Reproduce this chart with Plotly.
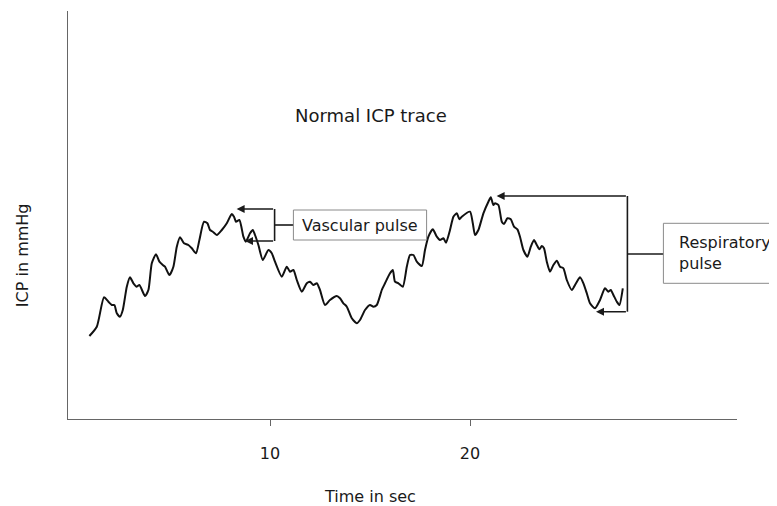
import plotly.graph_objects as go

# ---- data ----
time_s = [0.97, 1.34, 1.70, 1.92, 2.09, 2.22, 2.34, 2.50, 2.64, 2.84, 3.00, 3.17, 3.34, 3.47, 3.75, 3.92,
          4.09, 4.30, 4.47, 4.64, 4.75, 4.97, 5.17, 5.34, 5.50, 5.70, 5.92, 6.09, 6.30, 6.47, 6.70, 6.87,
          7.00, 7.14, 7.34, 7.59, 7.84, 8.09, 8.20, 8.30, 8.47, 8.67, 8.79, 9.00, 9.14, 9.25, 9.42, 9.64,
          9.92, 10.09, 10.25, 10.59, 10.84, 11.00, 11.17, 11.34, 11.59, 11.84, 12.00, 12.17, 12.34, 12.50,
          12.75, 13.00, 13.34, 13.50, 13.67, 13.84, 14.09, 14.34, 14.50, 14.75, 15.00, 15.17, 15.34, 15.59,
          15.75, 16.00, 16.14, 16.25, 16.42, 16.64, 16.84, 17.00, 17.17, 17.34, 17.59, 17.75, 17.92, 18.14,
          18.34, 18.50, 18.67, 18.80, 19.00, 19.17, 19.34, 19.47, 19.59, 20.00, 20.14, 20.25, 20.42, 20.67,
          20.92, 21.04, 21.17, 21.25, 21.42, 21.59, 21.70, 21.87, 22.04, 22.20, 22.37, 22.50, 22.67, 22.87,
          23.04, 23.20, 23.34, 23.47, 23.59, 23.70, 23.84, 24.00, 24.17, 24.34, 24.50, 24.67, 24.84, 25.09,
          25.30, 25.50, 25.67, 25.84, 26.00, 26.25, 26.50, 26.75, 26.92, 27.04, 27.17, 27.34, 27.47, 27.64]
icp_mmhg = [8.30, 9.23, 12.17, 11.73, 11.40, 11.40, 10.57, 10.23, 10.90, 13.23, 14.17, 13.57, 13.23, 13.40, 12.30, 12.90,
            15.57, 16.47, 15.73, 15.40, 15.23, 14.40, 15.23, 17.23, 18.17, 17.57, 17.40, 17.07, 16.57, 17.90, 19.73, 19.57,
            18.90, 18.73, 18.40, 18.90, 19.57, 20.50, 20.23, 19.73, 19.90, 18.23, 17.73, 18.57, 18.90, 18.40, 17.40, 15.90,
            16.90, 16.57, 15.73, 14.23, 15.23, 14.73, 14.90, 13.90, 12.73, 13.57, 13.73, 13.40, 13.57, 12.90,
            11.40, 11.90, 12.30, 12.07, 11.57, 11.23, 10.07, 9.57, 9.90, 10.90, 11.40, 11.23, 11.40, 12.90,
            13.57, 14.57, 14.90, 13.73, 13.57, 13.23, 15.23, 16.40, 16.40, 15.73, 15.30, 16.90, 18.23, 18.97,
            18.23, 17.90, 18.07, 17.63, 18.90, 20.23, 20.57, 19.97, 20.23, 20.73, 19.57, 18.40, 18.90, 20.57,
            21.73, 22.17, 21.40, 21.57, 21.40, 19.73, 19.50, 20.07, 19.97, 19.23, 18.97, 18.23, 16.90, 16.23,
            17.23, 17.90, 17.40, 16.97, 17.30, 17.07, 15.73, 14.73, 15.40, 15.83, 15.23, 15.07, 13.90, 12.90,
            13.57, 14.17, 13.57, 12.57, 11.57, 11.07, 11.90, 13.07, 12.73, 12.90, 12.40, 11.73, 11.40, 13.07]

x_ticks = [10, 20]
x_tick_labels = ["10", "20"]
x_range = [-0.1, 33.35]
y_range = [0, 40.8]

chart_title = "Normal ICP trace"
x_title = "Time in sec"
y_title = "ICP in mmHg"

# annotation geometry (data units)
vasc_label = "Vascular pulse"
vasc_bracket_x = 10.23
vasc_top_y, vasc_bottom_y = 21.0, 17.8
vasc_top_tip_x, vasc_bottom_tip_x = 8.33, 8.75
vasc_link_y = 19.4
vasc_box = [11.17, 17.83, 17.9, 20.9]  # x0, x1, y0, y1

resp_label = "Respiratory<br>pulse"
resp_bracket_x = 27.87
resp_top_y, resp_bottom_y = 22.3, 10.73
resp_top_tip_x, resp_bottom_tip_x = 21.33, 26.3
resp_link_y = 16.5
resp_box = [29.67, 35.22, 13.57, 19.57]  # x0, x1, y0, y1 (extends past axis end)

FONT = "DejaVu Sans"
INK = "#1a1a1a"
AXIS = "#666666"


def to_paper_x(v):
    return (v - x_range[0]) / (x_range[1] - x_range[0])


fig = go.Figure()
fig.add_trace(go.Scatter(x=time_s, y=icp_mmhg, mode="lines",
                         line=dict(color="#111111", width=2, shape="spline", smoothing=0.6),
                         hoverinfo="skip", showlegend=False))

shapes = []
annotations = []

# vascular bracket
shapes.append(dict(type="line", xref="x", yref="y", x0=vasc_bracket_x, x1=vasc_bracket_x,
                   y0=vasc_bottom_y, y1=vasc_top_y, line=dict(color=INK, width=1.6)))
shapes.append(dict(type="line", xref="x", yref="y", x0=vasc_bracket_x, x1=vasc_box[0],
                   y0=vasc_link_y, y1=vasc_link_y, line=dict(color=INK, width=1.6)))
shapes.append(dict(type="rect", xref="x", yref="y", x0=vasc_box[0], x1=vasc_box[1],
                   y0=vasc_box[2], y1=vasc_box[3], line=dict(color="#8a8a8a", width=1)))
for tip_x, yy in [(vasc_top_tip_x, vasc_top_y), (vasc_bottom_tip_x, vasc_bottom_y)]:
    annotations.append(dict(x=tip_x, y=yy, ax=vasc_bracket_x, ay=yy, xref="x", yref="y",
                            axref="x", ayref="y", text="", showarrow=True, arrowhead=2,
                            arrowsize=1.0, arrowwidth=1.6, arrowcolor=INK, standoff=0))
annotations.append(dict(x=(vasc_box[0] + vasc_box[1]) / 2, y=(vasc_box[2] + vasc_box[3]) / 2,
                        xref="x", yref="y", text=vasc_label, showarrow=False,
                        font=dict(family=FONT, size=16, color=INK)))

# respiratory bracket
shapes.append(dict(type="line", xref="x", yref="y", x0=resp_bracket_x, x1=resp_bracket_x,
                   y0=resp_bottom_y, y1=resp_top_y, line=dict(color=INK, width=1.6)))
shapes.append(dict(type="line", xref="x", yref="y", x0=resp_bracket_x, x1=resp_box[0],
                   y0=resp_link_y, y1=resp_link_y, line=dict(color=INK, width=1.6)))
shapes.append(dict(type="rect", xref="paper", yref="y", x0=to_paper_x(resp_box[0]),
                   x1=to_paper_x(resp_box[1]), y0=resp_box[2], y1=resp_box[3],
                   line=dict(color="#8a8a8a", width=1)))
for tip_x, yy in [(resp_top_tip_x, resp_top_y), (resp_bottom_tip_x, resp_bottom_y)]:
    annotations.append(dict(x=tip_x, y=yy, ax=resp_bracket_x, ay=yy, xref="x", yref="y",
                            axref="x", ayref="y", text="", showarrow=True, arrowhead=2,
                            arrowsize=1.0, arrowwidth=1.6, arrowcolor=INK, standoff=0))
annotations.append(dict(x=resp_box[0] + 0.7, y=(resp_box[2] + resp_box[3]) / 2,
                        xref="x", yref="y", xanchor="left", align="left", text=resp_label,
                        showarrow=False, font=dict(family=FONT, size=16, color=INK)))

# chart title inside the plot
annotations.append(dict(x=15.03, y=30.35, xref="x", yref="y", text=chart_title, showarrow=False,
                        font=dict(family=FONT, size=18, color=INK)))

# axis titles (both sit off-centre in the reference)
annotations.append(dict(x=-0.067, y=0.402, xref="paper", yref="paper", text=y_title,
                        textangle=-90, showarrow=False, xanchor="center", yanchor="middle",
                        font=dict(family=FONT, size=16, color=INK)))
annotations.append(dict(x=0.451, y=-0.189, xref="paper", yref="paper", text=x_title,
                        showarrow=False, xanchor="center", yanchor="middle",
                        font=dict(family=FONT, size=16, color=INK)))

fig.update_layout(
    width=777, height=506,
    margin=dict(l=60, r=48, t=3, b=95),
    paper_bgcolor="white", plot_bgcolor="white",
    font=dict(family=FONT, size=16, color=INK),
    shapes=shapes, annotations=annotations, showlegend=False,
    xaxis=dict(range=x_range, tickvals=x_ticks, ticktext=x_tick_labels, showgrid=False,
               zeroline=False, showline=True, linecolor=AXIS, linewidth=1, automargin=False,
               ticks="outside", ticklen=6, tickcolor=AXIS, ticklabelstandoff=14,
               tickfont=dict(family=FONT, size=16, color=INK)),
    yaxis=dict(range=y_range, showticklabels=False, showgrid=False, zeroline=False,
               showline=True, linecolor=AXIS, linewidth=1, ticks="", automargin=False),
)

fig.write_html("out.html")
